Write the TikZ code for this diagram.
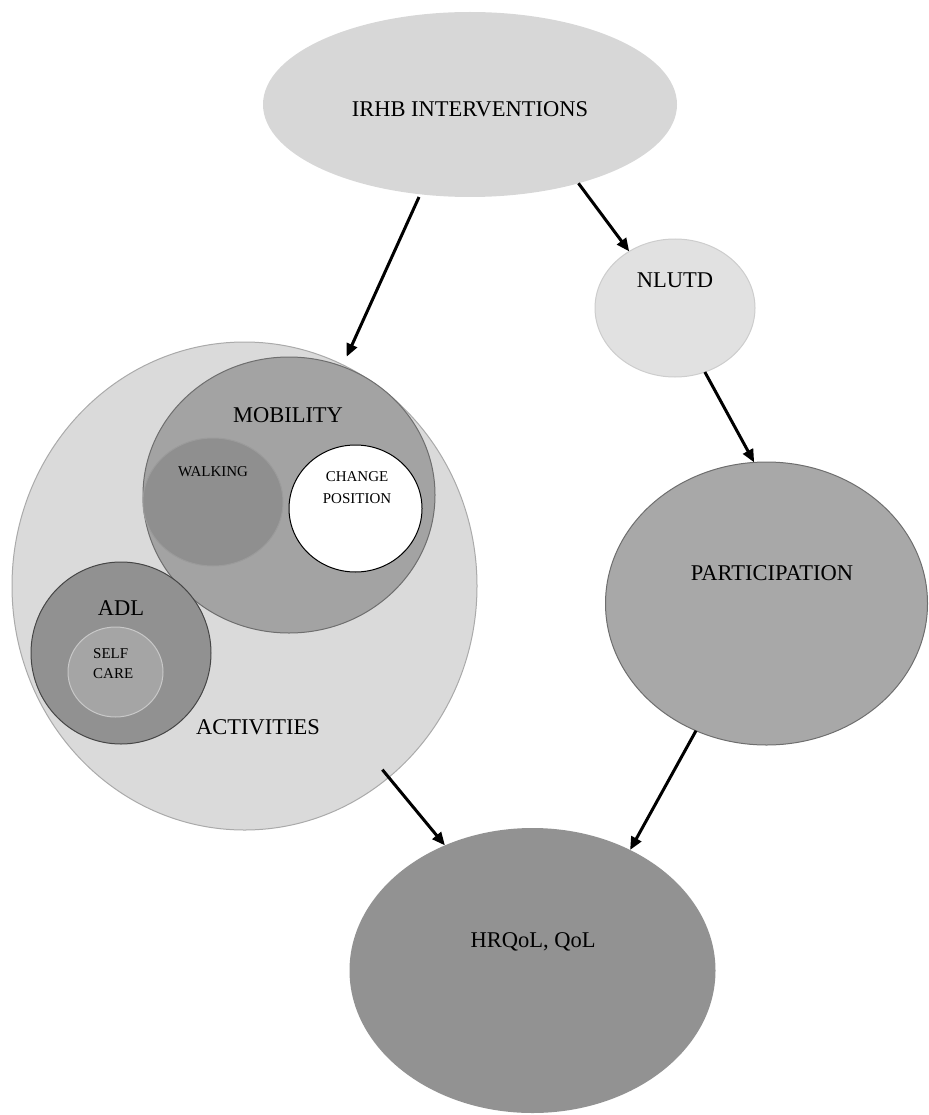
\documentclass[tikz,border=0pt]{standalone}
\usepackage{fontspec}
\setmainfont{Liberation Serif}
\usetikzlibrary{shapes.geometric,arrows.meta}
\definecolor{actfill}{RGB}{218,218,218}
\definecolor{actline}{RGB}{170,170,170}
\definecolor{mobfill}{RGB}{163,163,163}
\definecolor{mobline}{RGB}{110,110,110}
\definecolor{walkfill}{RGB}{143,143,143}
\definecolor{walkline}{RGB}{155,155,155}
\definecolor{adlfill}{RGB}{145,145,145}
\definecolor{adlline}{RGB}{70,70,70}
\definecolor{selffill}{RGB}{165,165,165}
\definecolor{selfline}{RGB}{200,200,200}
\definecolor{irhbfill}{RGB}{215,215,215}
\definecolor{nlutdfill}{RGB}{225,225,225}
\definecolor{nlutdline}{RGB}{205,205,205}
\definecolor{partfill}{RGB}{168,168,168}
\definecolor{partline}{RGB}{110,110,110}
\definecolor{hrqfill}{RGB}{146,146,146}
\begin{document}
\begin{tikzpicture}[x=1pt,y=-1pt,
  blob/.style={ellipse,inner sep=0pt,outer sep=0pt,line width=1pt},
  lbl/.style={font=\fontsize{22.5}{26}\selectfont,inner sep=0pt,anchor=base},
  smalllbl/.style={font=\fontsize{15}{21}\selectfont,inner sep=0pt},
  conn/.style={line width=3pt,-{Triangle[length=13pt,width=11pt]}}]
\useasboundingbox (0,0) rectangle (928,1115);
% left cluster
\node[blob,fill=actfill,draw=actline,minimum width=465pt,minimum height=488pt] (act) at (244.5,586) {};
\node[blob,fill=mobfill,draw=mobline,minimum width=292pt,minimum height=276pt] (mob) at (289,495) {};
\node[blob,fill=walkfill,draw=walkline,minimum width=140pt,minimum height=128pt] (walk) at (213,502) {};
\node[blob,fill=white,draw=black,minimum width=133pt,minimum height=127pt] (chg) at (355.5,508.5) {};
\node[blob,fill=adlfill,draw=adlline,minimum width=180pt,minimum height=182pt] (adl) at (121,653) {};
\node[blob,fill=selffill,draw=selfline,minimum width=95pt,minimum height=90pt] (self) at (115.5,672) {};
% right chain
\node[blob,fill=irhbfill,minimum width=414pt,minimum height=185pt] (irhb) at (470,104.5) {};
\node[blob,fill=nlutdfill,draw=nlutdline,minimum width=160pt,minimum height=138pt] (nlutd) at (675,308) {};
\node[blob,fill=partfill,draw=partline,minimum width=322pt,minimum height=283pt] (part) at (766.5,603.5) {};
\node[blob,fill=hrqfill,minimum width=366pt,minimum height=285pt] (hrq) at (532.5,970.5) {};
% labels
\node[lbl] (irhbtxt) at (470,116.5) {IRHB INTERVENTIONS};
\node[lbl] (mobtxt) at (288,422.5) {MOBILITY};
\node[smalllbl,anchor=base] (walktxt) at (213,476) {WALKING};
\node[smalllbl,align=center,font=\fontsize{15}{22}\selectfont] (chgtxt) at (357,488) {CHANGE\\POSITION};
\node[lbl] (adltxt) at (121,615.5) {ADL};
\node[smalllbl,align=left,anchor=west,font=\fontsize{15}{20}\selectfont] (selftxt) at (93,664) {SELF\\CARE};
\node[lbl] (acttxt) at (258,734.5) {ACTIVITIES};
\node[lbl] (nlutdtxt) at (675,287.5) {NLUTD};
\node[lbl] (parttxt) at (772,580.5) {PARTICIPATION};
\node[lbl] (hrqtxt) at (533,947.5) {HRQoL, QoL};
% connectors
\draw[conn,shorten <=3pt,shorten >=9pt] (irhb.241.6) -- (act.66.5);
\draw[conn] (irhb.324) -- (nlutd.129.3);
\draw[conn] (nlutd.295.5) -- (part.95.1);
\draw[conn] (part.241.3) -- (hrq.51);
\draw[conn,shorten <=-10pt] (act.307.5) -- (hrq.125.3);
\end{tikzpicture}
\end{document}
